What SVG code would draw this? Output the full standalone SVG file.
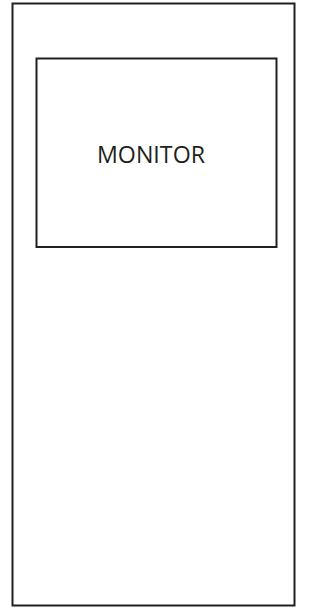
<svg xmlns="http://www.w3.org/2000/svg" width="327" height="609" viewBox="0 0 327 609">
<style>
.box{fill:#fff;stroke:#231f20;stroke-width:2}
.lbl{font-family:"Open Sans","Noto Sans",sans-serif;font-size:24px;fill:#231f20}
</style>
<rect width="327" height="609" fill="#fff"/>
<g id="cabinet"><rect class="box" x="12.5" y="3.5" width="282" height="602"/></g>
<g id="monitor"><rect class="box" x="36.5" y="58.5" width="240" height="188.5"/>
<text class="lbl" x="97" y="162.5" textLength="108" lengthAdjust="spacingAndGlyphs">MONITOR</text></g>
<g id="connectors"/>
</svg>
